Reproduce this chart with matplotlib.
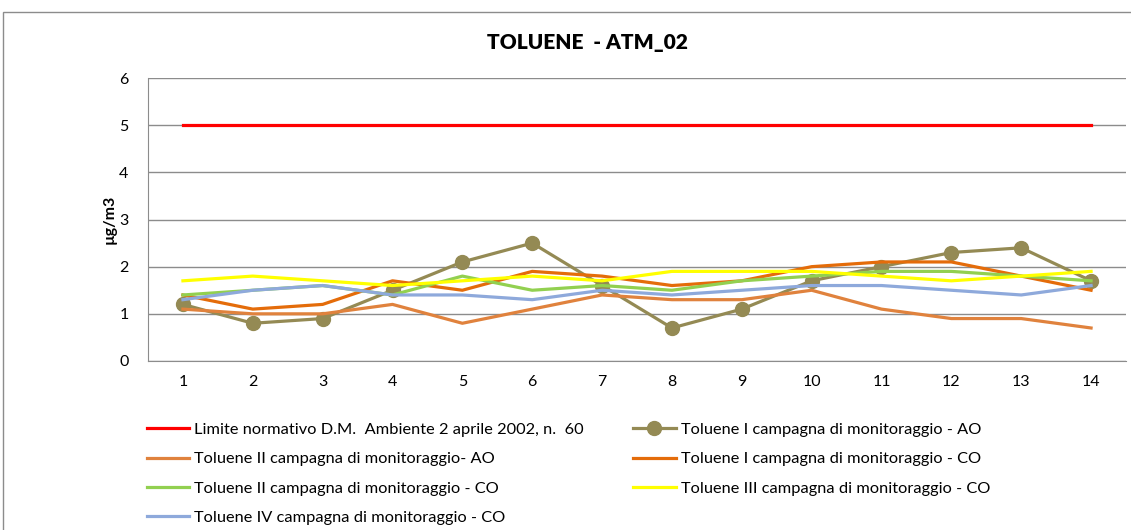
import matplotlib.pyplot as plt
from matplotlib.patches import Rectangle

plt.rcParams['font.family'] = ['Lato', 'DejaVu Sans']

# Data
punti = list(range(1, 15))
limite = [5] * 14
tol_I_AO = [1.2, 0.8, 0.9, 1.5, 2.1, 2.5, 1.6, 0.7, 1.1, 1.7, 2.0, 2.3, 2.4, 1.7]
tol_II_AO = [1.1, 1.0, 1.0, 1.2, 0.8, 1.1, 1.4, 1.3, 1.3, 1.5, 1.1, 0.9, 0.9, 0.7]
tol_I_CO = [1.4, 1.1, 1.2, 1.7, 1.5, 1.9, 1.8, 1.6, 1.7, 2.0, 2.1, 2.1, 1.8, 1.5]
tol_II_CO = [1.4, 1.5, 1.6, 1.4, 1.8, 1.5, 1.6, 1.5, 1.7, 1.8, 1.9, 1.9, 1.8, 1.7]
tol_III_CO = [1.7, 1.8, 1.7, 1.6, 1.7, 1.8, 1.7, 1.9, 1.9, 1.9, 1.8, 1.7, 1.8, 1.9]
tol_IV_CO = [1.3, 1.5, 1.6, 1.4, 1.4, 1.3, 1.5, 1.4, 1.5, 1.6, 1.6, 1.5, 1.4, 1.6]

fig = plt.figure(figsize=(11.31, 5.30), dpi=100)
ax = fig.add_axes([148 / 1131, 1 - 361 / 530, (1126 - 148) / 1131, (361 - 78) / 530])

# outer chart frame
fig.patches.append(Rectangle((3 / 1131, -0.05), 1.2, 1 - 12 / 530 + 0.05,
                             transform=fig.transFigure, fill=False,
                             edgecolor='#8c8c8c', linewidth=1))

lw = 2.3
l_lim, = ax.plot(punti, limite, color='#FF0000', lw=lw)
l_IAO, = ax.plot(punti, tol_I_AO, color='#948A54', lw=lw, marker='o', markersize=10)
l_IIAO, = ax.plot(punti, tol_II_AO, color='#E0823D', lw=lw)
l_ICO, = ax.plot(punti, tol_I_CO, color='#E46C0A', lw=lw)
l_IICO, = ax.plot(punti, tol_II_CO, color='#92D050', lw=lw)
l_IIICO, = ax.plot(punti, tol_III_CO, color='#FFFF00', lw=lw)
l_IVCO, = ax.plot(punti, tol_IV_CO, color='#8EA9DB', lw=lw)

ax.set_xlim(0.5, 14.5)
ax.set_ylim(0, 6)
ax.set_xticks(punti)
ax.set_yticks(range(0, 7))
ax.tick_params(length=0, labelsize=11.5)
ax.tick_params(axis='y', pad=14)
ax.tick_params(axis='x', pad=10)
ax.grid(axis='y', color='#8c8c8c', lw=1)
ax.set_axisbelow(True)
for s in ['top', 'right']:
    ax.spines[s].set_visible(False)
for s in ['left', 'bottom']:
    ax.spines[s].set_color('#8c8c8c')
ax.set_ylabel('µg/m3', fontsize=11.5, fontweight='bold', labelpad=2)
fig.text(587 / 1131, 1 - 43 / 530, 'TOLUENE  - ATM_02', fontsize=15,
         fontweight='heavy', ha='center', va='center')

handles = [l_lim, l_IIAO, l_IICO, l_IVCO, l_IAO, l_ICO, l_IIICO]
labels = ['Limite normativo D.M.  Ambiente 2 aprile 2002, n.  60',
          'Toluene II campagna di monitoraggio- AO',
          'Toluene II campagna di monitoraggio - CO',
          'Toluene IV campagna di monitoraggio - CO',
          'Toluene I campagna di monitoraggio - AO',
          'Toluene I campagna di monitoraggio - CO',
          'Toluene III campagna di monitoraggio - CO']
fig.legend(handles, labels, ncol=2, loc='upper left',
           bbox_to_anchor=(132 / 1131, 1 - 408 / 530), frameon=False,
           fontsize=11.8, handlelength=2.6, handletextpad=0.3,
           columnspacing=3.0, labelspacing=0.9)

fig.savefig('out.png', dpi=100)
